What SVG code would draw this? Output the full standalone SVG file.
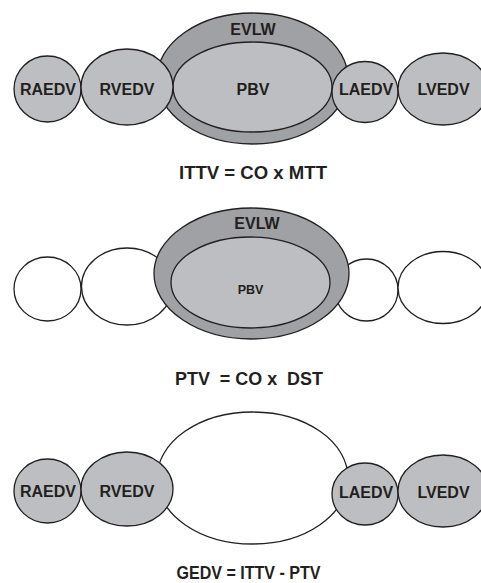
<svg xmlns="http://www.w3.org/2000/svg" width="481" height="583" viewBox="0 0 481 583">
<style>
.lt{fill:#bdbec1;stroke:#231f20;stroke-width:1.3}
.dk{fill:#a0a1a4;stroke:#231f20;stroke-width:1.3}
.wh{fill:#ffffff;stroke:#231f20;stroke-width:1.3}
text{font-family:"Liberation Sans",Arial,sans-serif;font-weight:bold;fill:#231f20;text-anchor:middle}
.lb{font-size:16px}
.sm{font-size:12.5px}
.eq{font-size:17.5px;white-space:pre}
</style>
<rect width="481" height="583" fill="#ffffff"/>
<g id="panel1">
  <g id="p1-evlw"><ellipse class="dk" cx="252.5" cy="78.5" rx="95.5" ry="65.5"/><text class="lb" x="253" y="35">EVLW</text></g>
  <g id="p1-pbv"><ellipse class="lt" cx="252.5" cy="87" rx="79.5" ry="45"/><text class="lb" x="253" y="95">PBV</text></g>
  <g id="p1-raedv"><ellipse class="lt" cx="47.5" cy="89" rx="33.5" ry="33"/><text class="lb" x="48" y="95">RAEDV</text></g>
  <g id="p1-rvedv"><ellipse class="lt" cx="127" cy="87" rx="46" ry="38"/><text class="lb" x="127" y="95">RVEDV</text></g>
  <g id="p1-laedv"><ellipse class="lt" cx="365" cy="92" rx="33" ry="30.5"/><text class="lb" x="366" y="95">LAEDV</text></g>
  <g id="p1-lvedv"><ellipse class="lt" cx="443" cy="89" rx="45" ry="36"/><text class="lb" x="443.5" y="95">LVEDV</text></g>
  <text class="eq" x="253" y="179" textLength="148" lengthAdjust="spacingAndGlyphs">ITTV = CO x MTT</text>
</g>
<g id="panel2">
  <g id="p2-raedv"><ellipse class="wh" cx="47.5" cy="289" rx="33.5" ry="32"/></g>
  <g id="p2-rvedv"><ellipse class="wh" cx="127" cy="286.5" rx="45.5" ry="38.5"/></g>
  <g id="p2-laedv"><ellipse class="wh" cx="366.5" cy="290" rx="31.5" ry="31"/></g>
  <g id="p2-lvedv"><ellipse class="wh" cx="443" cy="287.5" rx="45" ry="36"/></g>
  <g id="p2-evlw"><ellipse class="dk" cx="251.5" cy="273.5" rx="97.5" ry="65.5"/><text class="lb" x="257" y="229">EVLW</text></g>
  <g id="p2-pbv"><ellipse class="lt" cx="250.5" cy="282.5" rx="79.5" ry="45.5"/><text class="sm" x="250.5" y="294">PBV</text></g>
  <text class="eq" x="249" y="385" textLength="148" lengthAdjust="spacingAndGlyphs">PTV  = CO x  DST</text>
</g>
<g id="panel3">
  <g id="p3-ittv"><ellipse class="wh" cx="252.5" cy="478" rx="95.5" ry="66"/></g>
  <g id="p3-raedv"><ellipse class="lt" cx="47.5" cy="491" rx="33.5" ry="32"/><text class="lb" x="48" y="497">RAEDV</text></g>
  <g id="p3-rvedv"><ellipse class="lt" cx="127" cy="489" rx="46" ry="37"/><text class="lb" x="127" y="497">RVEDV</text></g>
  <g id="p3-laedv"><ellipse class="lt" cx="365" cy="494" rx="33" ry="31"/><text class="lb" x="366" y="498">LAEDV</text></g>
  <g id="p3-lvedv"><ellipse class="lt" cx="443" cy="491" rx="45" ry="36"/><text class="lb" x="443.5" y="498">LVEDV</text></g>
  <text class="eq" x="248.5" y="579" textLength="144" lengthAdjust="spacingAndGlyphs">GEDV = ITTV - PTV</text>
</g>
<g id="connectors"/>
</svg>
